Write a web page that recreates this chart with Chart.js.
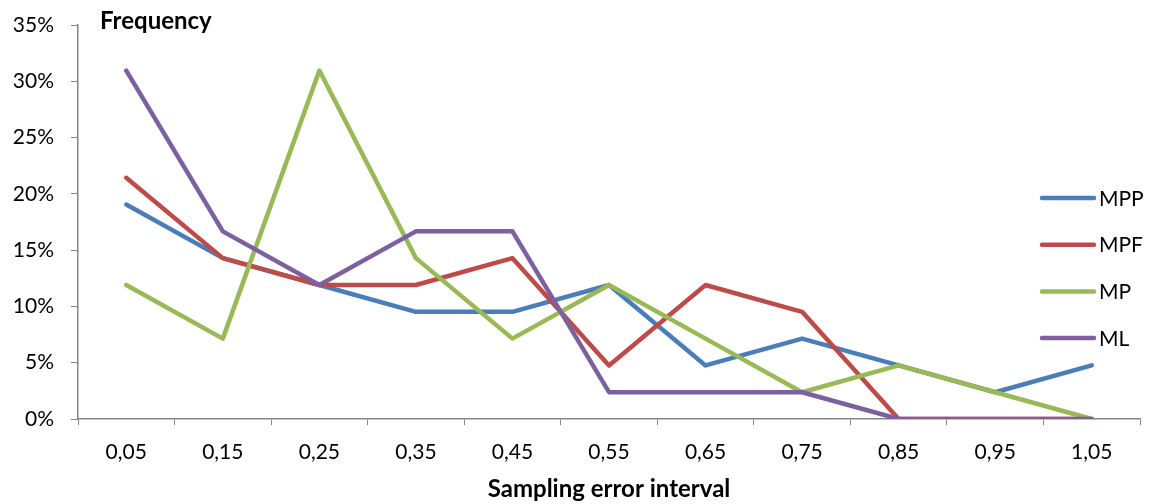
<!DOCTYPE html>
<html>
<head>
<meta charset="utf-8">
<script src="https://cdn.jsdelivr.net/npm/chart.js@4"></script>
<style>
  html, body { margin: 0; padding: 0; background: #fff; }
  #wrap { width: 1150px; height: 504px; }
</style>
</head>
<body>
<div id="wrap"><canvas id="chart" width="1150" height="504"></canvas></div>
<script>
// Categories (sampling error interval)
const labels = ['0,05', '0,15', '0,25', '0,35', '0,45', '0,55', '0,65', '0,75', '0,85', '0,95', '1,05'];

// Series values in %
const mpp = [19.05, 14.29, 11.9, 9.52, 9.52, 11.9, 4.76, 7.14, 4.76, 2.38, 4.76];
const mpf = [21.43, 14.29, 11.9, 11.9, 14.29, 4.76, 11.9, 9.52, 0, 0, 0];
const mp = [11.9, 7.14, 30.95, 14.29, 7.14, 11.9, 7.14, 2.38, 4.76, 2.38, 0];
const ml = [30.95, 16.67, 11.9, 16.67, 16.67, 2.38, 2.38, 2.38, 0, 0, 0];

const FONT = 'Lato, "Open Sans", sans-serif';
const AXIS = '#868686';

const series = [
  { label: 'MPP', data: mpp, color: '#4A7EBB' },
  { label: 'MPF', data: mpf, color: '#BE4B48' },
  { label: 'MP', data: mp, color: '#98B954' },
  { label: 'ML', data: ml, color: '#7D60A0' },
];

// Legend + "Frequency" label drawn inside the plot area
const overlay = {
  id: 'overlay',
  afterDraw(chart) {
    const { ctx, chartArea } = chart;
    ctx.save();
    ctx.font = `bold 24px ${FONT}`;
    ctx.fillStyle = '#000';
    ctx.textBaseline = 'middle';
    ctx.fillText('Frequency', chartArea.left + 22, 21);

    ctx.font = `21px ${FONT}`;
    chart.data.datasets.forEach((ds, i) => {
      const y = 198 + i * 46.7;
      ctx.strokeStyle = ds.borderColor;
      ctx.lineWidth = 4.5;
      ctx.lineCap = 'round';
      ctx.beginPath();
      ctx.moveTo(1042, y);
      ctx.lineTo(1094, y);
      ctx.stroke();
      ctx.fillStyle = '#000';
      ctx.fillText(ds.label, 1099, y + 1);
    });
    ctx.restore();
  },
};

new Chart(document.getElementById('chart'), {
  type: 'line',
  data: {
    labels,
    // later series drawn on top, like the original
    datasets: series.map((s, i) => ({
      label: s.label,
      data: s.data,
      order: series.length - i,
      borderColor: s.color,
      backgroundColor: s.color,
      borderWidth: 4.5,
      borderJoinStyle: 'round',
      borderCapStyle: 'round',
      pointRadius: 0,
      tension: 0,
    })),
  },
  options: {
    responsive: false,
    animation: false,
    layout: { padding: { top: 25, right: 10, left: 0, bottom: 0 } },
    plugins: { legend: { display: false }, tooltip: { enabled: false } },
    scales: {
      x: {
        offset: true,
        afterFit: (scale) => { scale.height = 85; },
        grid: { offset: true, drawOnChartArea: false, drawTicks: true, tickLength: 6, color: AXIS },
        border: { color: AXIS, width: 1.5 },
        ticks: { color: '#000', font: { family: FONT, size: 21 }, padding: 15, maxRotation: 0 },
        title: {
          display: true,
          text: 'Sampling error interval',
          color: '#000',
          font: { family: FONT, size: 24, weight: 'bold' },
          padding: { top: 0, bottom: 0 },
        },
      },
      y: {
        min: 0,
        max: 35,
        afterFit: (scale) => {
          scale.width = 78;
          scale.paddingTop = 0;
        },
        grid: { drawOnChartArea: false, drawTicks: true, tickLength: 7, color: AXIS },
        border: { color: AXIS, width: 1.5 },
        ticks: {
          stepSize: 5,
          color: '#000',
          padding: 17,
          font: { family: FONT, size: 21 },
          callback: (v) => `${v}%`,
        },
      },
    },
  },
  plugins: [overlay],
});
</script>
</body>
</html>
